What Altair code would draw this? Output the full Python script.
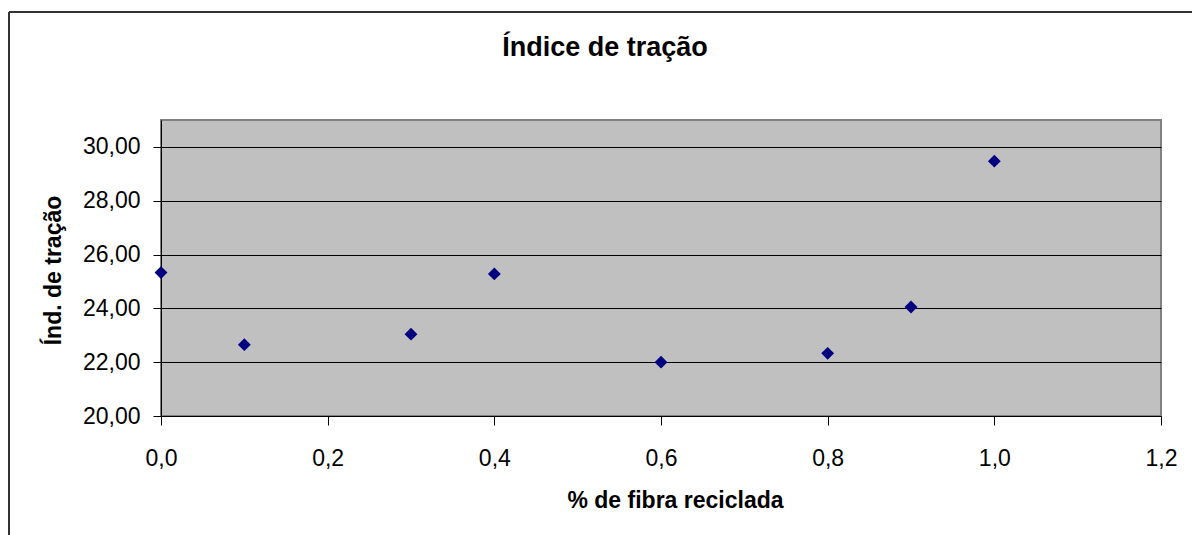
import altair as alt
import pandas as pd

# Tensile index measured at each recycled-fibre fraction
fibra = [0.0, 0.1, 0.3, 0.4, 0.6, 0.8, 0.9, 1.0]
indice = [25.33, 22.65, 23.04, 25.28, 22.00, 22.33, 24.05, 29.47]

# Axis tick positions
x_ticks = [0.0, 0.2, 0.4, 0.6, 0.8, 1.0, 1.2]
y_ticks = [20, 22, 24, 26, 28, 30]

df = pd.DataFrame({"fibra": fibra, "indice": indice})

FONT = "Liberation Sans, Arial, sans-serif"

points = alt.Chart(df).mark_point(
    shape="diamond", filled=True, size=165, color="#000080", opacity=1
).encode(
    x=alt.X(
        "fibra:Q",
        scale=alt.Scale(domain=[0, 1.2], nice=False, zero=False),
        axis=alt.Axis(
            values=x_ticks,
            labelExpr="replace(format(datum.value, '.1f'), '.', ',')",
            labelFlush=False,
            labelOverlap=False,
            title="% de fibra reciclada",
            grid=False,
            tickSize=9,
            labelPadding=22,
            labelBaseline="top",
            titleX=514,
            titleY=91,
            titleAlign="center",
            titleBaseline="alphabetic",
        ),
    ),
    y=alt.Y(
        "indice:Q",
        scale=alt.Scale(domain=[20, 31], nice=False, zero=False),
        axis=alt.Axis(
            values=y_ticks,
            labelExpr="replace(format(datum.value, '.2f'), '.', ',')",
            labelFlush=False,
            labelOverlap=False,
            title="Índ. de tração",
            grid=True,
            tickSize=8,
            labelPadding=13,
            titleX=-101,
            titleY=150,
            titleAngle=270,
            titleAlign="center",
            titleBaseline="alphabetic",
        ),
    ),
)

# Outer frame of the chart area (top and left edges)
frame_top = alt.Chart(alt.Data(values=[{}])).mark_rule(
    color="#333333", strokeWidth=2
).encode(x=alt.value(-152), x2=alt.value(1100), y=alt.value(-108))

frame_left = alt.Chart(alt.Data(values=[{}])).mark_rule(
    color="#333333", strokeWidth=2
).encode(x=alt.value(-152), y=alt.value(-108), y2=alt.value(520))

chart = alt.layer(frame_top, frame_left, points).properties(
    width=1000,
    height=296,
    autosize=alt.AutoSizeParams(type="none"),
    padding={"left": 161, "top": 120, "right": 31, "bottom": 119},
    background="white",
    title=alt.TitleParams(
        "Índice de tração",
        font=FONT,
        fontSize=27,
        fontWeight="bold",
        color="black",
        anchor="middle",
        offset=0,
        dx=-56,
        dy=72,
        baseline="alphabetic",
    ),
).configure_view(
    fill="#C0C0C0", stroke="#808080", strokeWidth=2
).configure_axis(
    domainColor="black",
    domainWidth=1,
    tickColor="black",
    tickWidth=1,
    gridColor="black",
    gridWidth=1,
    gridOpacity=1,
    labelFont=FONT,
    labelFontSize=23,
    labelColor="black",
    titleFont=FONT,
    titleFontSize=23,
    titleFontWeight="bold",
    titleColor="black",
)

chart.save("out.html", embed_options={"renderer": "svg", "actions": False})
